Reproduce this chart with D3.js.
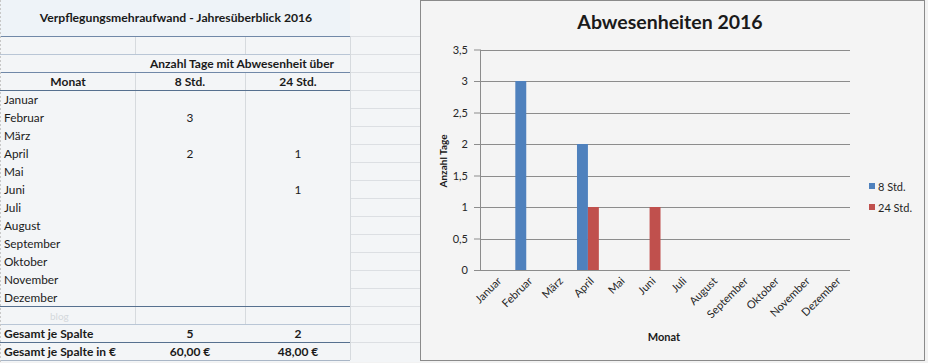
<!DOCTYPE html>
<html>
<head>
<meta charset="utf-8">
<script src="https://cdn.jsdelivr.net/npm/d3@7"></script>
<style>
  body { margin: 0; background: #f2f2f2; }
  text { font-family: Lato, "Open Sans", sans-serif; fill: #1a1a1a; }
</style>
</head>
<body>
<div id="chart"></div>
<script>
const months = ["Januar", "Februar", "März", "April", "Mai", "Juni", "Juli",
  "August", "September", "Oktober", "November", "Dezember"];
const seriesNames = ["8 Std.", "24 Std."];
const std8 = [0, 3, 0, 2, 0, 0, 0, 0, 0, 0, 0, 0];
const std24 = [0, 0, 0, 1, 0, 1, 0, 0, 0, 0, 0, 0];
const ratesEuro = [12, 24];
const yTicks = [0, 0.5, 1, 1.5, 2, 2.5, 3, 3.5];
const colors = ["#4f81bd", "#c0504d"];

const width = 928, height = 363;
const svg = d3.select("#chart").append("svg")
  .attr("width", width)
  .attr("height", height);

// ---------- table (left) ----------
const tbl = svg.append("g");
const rowH = 18;
const firstRow = 90;
const lineBlue = "#7088a8";
const lineDark = "#56708f";

tbl.append("rect").attr("x", 0).attr("y", 0).attr("width", 420).attr("height", 362)
  .attr("fill", "#f3f5f7");
tbl.append("rect").attr("x", 0).attr("y", 0).attr("width", 350).attr("height", 36)
  .attr("fill", "#eef3f8");

// column D cells
for (let i = 0; i < 18; i++) {
  tbl.append("line")
    .attr("x1", 350).attr("x2", 420)
    .attr("y1", 36 + i * rowH + 0.5).attr("y2", 36 + i * rowH + 0.5)
    .attr("stroke", "#dcdfe3");
}

// faint vertical lines
[[135, 36, 54], [245, 36, 54], [135, 72, 306], [245, 72, 306], [135, 306, 324], [245, 306, 324], [350, 36, 360]]
  .forEach(([x, y1, y2]) => {
    tbl.append("line").attr("x1", x + 0.5).attr("x2", x + 0.5)
      .attr("y1", y1).attr("y2", y2).attr("stroke", "#d6dade");
  });

// horizontal lines
[[36, lineBlue], [54, "#b9c6d6"], [72, lineBlue], [90, lineDark], [306, lineDark], [324, "#b9c6d6"], [342, lineDark], [360, "#a9b6c6"]]
  .forEach(([y, c]) => {
    tbl.append("line").attr("x1", 0).attr("x2", 350)
      .attr("y1", y + 0.5).attr("y2", y + 0.5).attr("stroke", c);
  });
tbl.append("line").attr("x1", 0.5).attr("x2", 0.5).attr("y1", 0).attr("y2", 362)
  .attr("stroke", "#c8c8c8").attr("stroke-dasharray", "2,2");

tbl.append("text").attr("x", 176).attr("y", 22).attr("text-anchor", "middle")
  .attr("font-size", 12.2).attr("font-weight", "bold")
  .text("Verpflegungsmehraufwand - Jahresüberblick 2016");
tbl.append("text").attr("x", 242).attr("y", 68).attr("text-anchor", "middle")
  .attr("font-size", 12).attr("font-weight", "bold")
  .text("Anzahl Tage mit Abwesenheit über");
tbl.append("text").attr("x", 68).attr("y", 86).attr("text-anchor", "middle")
  .attr("font-size", 12).attr("font-weight", "bold").text("Monat");
seriesNames.forEach((s, j) => {
  tbl.append("text").attr("x", j === 0 ? 190 : 298).attr("y", 86)
    .attr("text-anchor", "middle").attr("font-size", 12).attr("font-weight", "bold")
    .text(s);
});

const colCenter = [190, 298];
months.forEach((m, i) => {
  const y = firstRow + i * rowH + 13.5;
  tbl.append("text").attr("x", 4).attr("y", y).attr("font-size", 11.8).text(m);
  [std8, std24].forEach((vals, j) => {
    if (vals[i]) {
      tbl.append("text").attr("x", colCenter[j]).attr("y", y)
        .attr("text-anchor", "middle").attr("font-size", 11.8).text(vals[i]);
    }
  });
});

tbl.append("text").attr("x", 50).attr("y", 319.5).attr("font-size", 10)
  .style("fill", "#d4d8dc").text("blog");

const totals = [d3.sum(std8), d3.sum(std24)];
const fmtEuro = v => d3.format(".2f")(v).replace(".", ",") + " €";
tbl.append("text").attr("x", 4).attr("y", 337.5).attr("font-size", 12)
  .attr("font-weight", "bold").text("Gesamt je Spalte");
tbl.append("text").attr("x", 4).attr("y", 355.5).attr("font-size", 12)
  .attr("font-weight", "bold").text("Gesamt je Spalte in €");
totals.forEach((t, j) => {
  tbl.append("text").attr("x", colCenter[j]).attr("y", 337.5).attr("text-anchor", "middle")
    .attr("font-size", 12).attr("font-weight", "bold").text(t);
  tbl.append("text").attr("x", colCenter[j]).attr("y", 355.5).attr("text-anchor", "middle")
    .attr("font-size", 12).attr("font-weight", "bold").text(fmtEuro(t * ratesEuro[j]));
});

// ---------- chart (right) ----------
const ch = svg.append("g");
ch.append("rect").attr("x", 420.5).attr("y", 0.5).attr("width", 504).attr("height", 360)
  .attr("fill", "#f4f4f4").attr("stroke", "#8a8a8a");

const margin = { top: 49.5, left: 480, right: 850, bottom: 270 };

const x = d3.scaleBand()
  .domain(months)
  .range([margin.left, margin.right]);

const xInner = d3.scaleBand()
  .domain(seriesNames)
  .range([0, x.bandwidth()])
  .paddingInner(0)
  .paddingOuter(0.41);

const y = d3.scaleLinear()
  .domain([0, 3.5])
  .range([margin.bottom, margin.top]);

// gridlines
ch.append("g")
  .selectAll("line")
  .data(yTicks.slice(1))
  .join("line")
  .attr("x1", margin.left).attr("x2", margin.right)
  .attr("y1", d => Math.round(y(d)) + 0.5).attr("y2", d => Math.round(y(d)) + 0.5)
  .attr("stroke", "#8c8c8c");

// bars
const rows = months.map((m, i) => ({ month: m, values: [std8[i], std24[i]] }));
ch.append("g")
  .selectAll("g")
  .data(rows)
  .join("g")
  .attr("transform", d => `translate(${x(d.month)},0)`)
  .selectAll("rect")
  .data(d => d.values.map((v, j) => ({ key: seriesNames[j], v, j })))
  .join("rect")
  .attr("x", d => xInner(d.key))
  .attr("y", d => y(d.v))
  .attr("width", xInner.bandwidth())
  .attr("height", d => y(0) - y(d.v))
  .attr("fill", d => colors[d.j]);

// y axis
const yAxis = ch.append("g")
  .attr("transform", `translate(${margin.left},0)`)
  .call(d3.axisLeft(y).tickValues(yTicks).tickSize(6).tickPadding(6)
    .tickFormat(d => String(d).replace(".", ",")));
yAxis.select(".domain").attr("stroke", "#8c8c8c").attr("d", `M0.5,${margin.top}V${margin.bottom}`);
yAxis.selectAll(".tick line").attr("stroke", "#8c8c8c");
yAxis.selectAll(".tick text").attr("font-size", 11).style("fill", "#262626")
  .style("font-family", "Lato, sans-serif");

// x axis
const xAxis = ch.append("g")
  .attr("transform", `translate(0,${margin.bottom})`)
  .call(d3.axisBottom(x).tickSize(0).tickPadding(0));
xAxis.select(".domain").attr("stroke", "#8c8c8c").attr("d", `M${margin.left},0.5H${margin.right}`);
xAxis.selectAll(".tick text")
  .attr("font-size", 11)
  .style("fill", "#262626")
  .style("font-family", "Lato, sans-serif")
  .attr("text-anchor", "end")
  .attr("x", 0)
  .attr("y", 0)
  .attr("dx", 0)
  .attr("dy", "0.35em")
  .attr("transform", "translate(4,9) rotate(-45)");

// titles
ch.append("text").attr("x", 670).attr("y", 29).attr("text-anchor", "middle")
  .attr("font-size", 19.5).attr("font-weight", "bold").text("Abwesenheiten 2016");
ch.append("text").attr("transform", "translate(447,161) rotate(-90)")
  .attr("text-anchor", "middle").attr("font-size", 10).attr("font-weight", "bold")
  .text("Anzahl Tage");
ch.append("text").attr("x", 664).attr("y", 341).attr("text-anchor", "middle")
  .attr("font-size", 11).attr("font-weight", "bold").text("Monat");

// legend
const legend = ch.append("g").attr("transform", "translate(869,183)");
seriesNames.forEach((s, j) => {
  legend.append("rect").attr("x", 0).attr("y", j * 21).attr("width", 6).attr("height", 6)
    .attr("fill", colors[j]);
  legend.append("text").attr("x", 9).attr("y", j * 21 + 7.5).attr("font-size", 11)
    .style("fill", "#262626").text(s);
});
</script>
</body>
</html>
